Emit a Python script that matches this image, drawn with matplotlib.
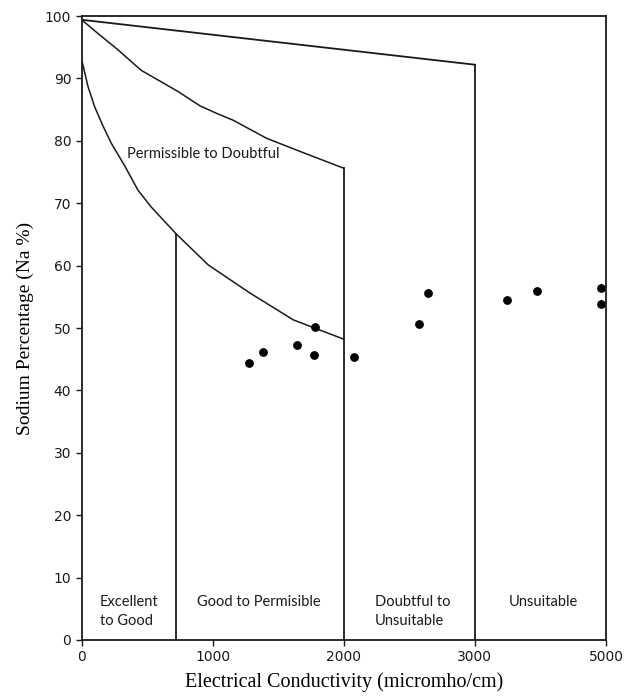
import numpy as np
import matplotlib
matplotlib.use("Agg")
import matplotlib.pyplot as plt

# boundary curves of the diagram (EC in micromho/cm, Na %)
top_ec = [0, 3000]
top_na = [99.4, 92.2]

mid_ec = [0, 124, 276, 454, 735, 903, 1040, 1156, 1411, 1666, 2000]
mid_na = [99.4, 97.2, 94.6, 91.3, 87.9, 85.6, 84.3, 83.3, 80.4, 78.3, 75.6]

low_ec = [0, 48, 98, 162, 226, 328, 429, 530, 720, 966, 1284, 1615, 2000]
low_na = [93.0, 88.7, 85.5, 82.4, 79.6, 76.0, 72.1, 69.4, 65.1, 60.1, 55.6, 51.3, 48.2]

# vertical class limits: (ec, top of the line)
limit_ec = [720, 2000, 3000]
limit_top = [65.1, 75.6, 92.2]

# samples
sample_ec = [1277, 1383, 1639, 1779, 1771, 2075, 2574, 2643, 3487, 3949, 4922, 4922]
sample_na = [44.4, 46.2, 47.2, 50.2, 45.7, 45.4, 50.7, 55.6, 54.5, 55.9, 56.4, 53.8]

xticks = [0, 1000, 2000, 3000, 5000]
yticks = [0, 10, 20, 30, 40, 50, 60, 70, 80, 90, 100]


# the axis is squeezed after 3000 (3000 -> 5000 takes one tick step)
def fwd(x):
    x = np.asarray(x, dtype=float)
    return np.where(x <= 3000, x, 3000 + (x - 3000) / 2)


def inv(x):
    x = np.asarray(x, dtype=float)
    return np.where(x <= 3000, x, 3000 + (x - 3000) * 2)


fig = plt.figure(figsize=(6.27, 6.97), dpi=100)
ax = fig.add_axes([0.1303, 0.0818, 0.8362, 0.8952])
ax.set_xscale("function", functions=(fwd, inv))

col = "#1a1a1a"
ax.plot(top_ec, top_na, color=col, lw=1.3)
ax.plot(mid_ec, mid_na, color=col, lw=1.1)
ax.plot(low_ec, low_na, color=col, lw=1.1)
for ec, t in zip(limit_ec, limit_top):
    ax.plot([ec, ec], [0, t], color=col, lw=1.3)

ax.plot(sample_ec, sample_na, "o", color="black", markersize=5.3)

ax.set_xlim(0, 5000)
ax.set_ylim(0, 100)
ax.set_xticks(xticks)
ax.set_yticks(yticks)
ax.tick_params(labelsize=10, length=4, width=1, colors=col)
for s in ax.spines.values():
    s.set_linewidth(1.3)
    s.set_color(col)

lab = dict(family="Lato", fontsize=10.5, color=col)
ax.text(927, 77.9, "Permissible to Doubtful", ha="center", va="center", **lab)
ax.text(139, 4.5, "Excellent\nto Good", ha="left", va="center", linespacing=1.45, **lab)
ax.text(1354, 6.1, "Good to Permisible", ha="center", va="center", **lab)
ax.text(2235, 4.5, "Doubtful to\nUnsuitable", ha="left", va="center", linespacing=1.45, **lab)
ax.text(4046, 6.1, "Unsuitable", ha="center", va="center", **lab)

ax.set_xlabel("Electrical Conductivity (micromho/cm)", family="Liberation Serif",
              fontsize=14.5, labelpad=6)
ax.set_ylabel("Sodium Percentage (Na %)", family="Liberation Serif", fontsize=14, labelpad=8)

fig.savefig("out.png", dpi=100)
